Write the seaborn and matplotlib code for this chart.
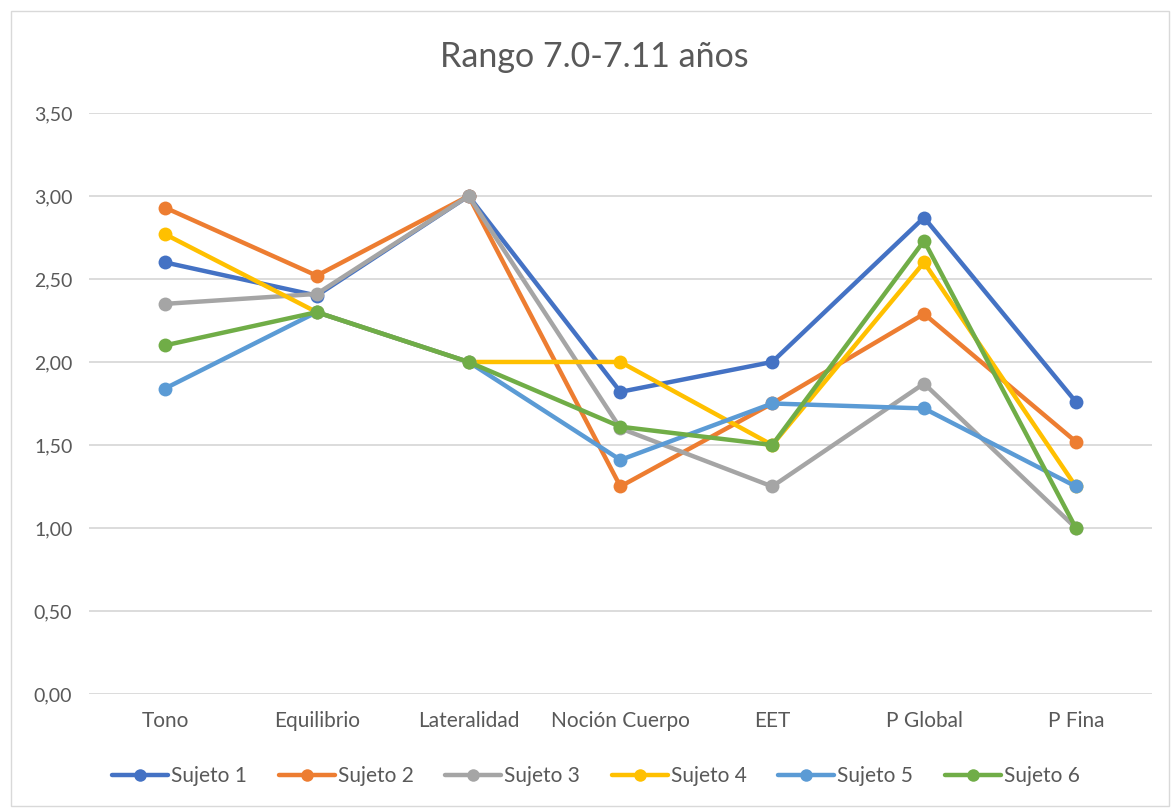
import seaborn as sns
import matplotlib.pyplot as plt
import pandas as pd
from matplotlib.patches import Rectangle
from matplotlib.ticker import FuncFormatter

categorias = ['Tono', 'Equilibrio', 'Lateralidad', 'Noción Cuerpo', 'EET', 'P Global', 'P Fina']
sujeto1 = [2.60, 2.40, 3.00, 1.82, 2.00, 2.87, 1.76]
sujeto2 = [2.93, 2.52, 3.00, 1.25, 1.75, 2.29, 1.52]
sujeto3 = [2.35, 2.41, 3.00, 1.60, 1.25, 1.87, 1.00]
sujeto4 = [2.77, 2.30, 2.00, 2.00, 1.50, 2.60, 1.25]
sujeto5 = [1.84, 2.30, 2.00, 1.41, 1.75, 1.72, 1.25]
sujeto6 = [2.10, 2.30, 2.00, 1.61, 1.50, 2.73, 1.00]
series = ['Sujeto 1', 'Sujeto 2', 'Sujeto 3', 'Sujeto 4', 'Sujeto 5', 'Sujeto 6']
colores = ['#4472C4', '#ED7D31', '#A5A5A5', '#FFC000', '#5B9BD5', '#70AD47']

valores = [sujeto1, sujeto2, sujeto3, sujeto4, sujeto5, sujeto6]
filas = []
for nombre, vals in zip(series, valores):
    for cat, v in zip(categorias, vals):
        filas.append({'cat': cat, 'valor': v, 'Sujeto': nombre})
df = pd.DataFrame(filas)

sns.set_style('white')
plt.rcParams['font.family'] = ['Lato', 'DejaVu Sans']

fig = plt.figure(figsize=(11.73, 8.11), dpi=100)
ax = fig.add_axes([0.0759, 0.1443, 0.906, 0.7164])

sns.lineplot(data=df, x='cat', y='valor', hue='Sujeto', palette=colores,
             marker='o', markersize=10, markeredgewidth=0, linewidth=3.2,
             sort=False, ax=ax, legend=True)

ax.set_xlim(-0.5, 6.5)
ax.set_ylim(0, 3.5)
ax.set_yticks([0, 0.5, 1, 1.5, 2, 2.5, 3, 3.5])
ax.yaxis.set_major_formatter(FuncFormatter(lambda v, p: f'{v:.2f}'.replace('.', ',')))
ax.grid(axis='y', color='#D9D9D9', linewidth=1.3)
ax.set_axisbelow(True)
for s in ax.spines.values():
    s.set_visible(False)
ax.tick_params(axis='both', length=0, labelcolor='#595959')
ax.tick_params(axis='x', pad=12, labelsize=15)
ax.tick_params(axis='y', pad=12, labelsize=14)
ax.set_xlabel('')
ax.set_ylabel('')

fig.text(0.507, 0.93, 'Rango 7.0-7.11 años', ha='center', va='center',
         fontsize=24.5, color='#595959')

handles, labels = ax.get_legend_handles_labels()
for h in handles:
    h.set_markersize(9)
ax.legend(handles, labels, loc='center', bbox_to_anchor=(0.508, 1 - 776 / 811),
          bbox_transform=fig.transFigure, ncol=6, frameon=False, fontsize=15,
          labelcolor='#595959', handlelength=2.7, columnspacing=1.5,
          handletextpad=0.15)

fig.add_artist(Rectangle((0.009, 0.006), 0.988, 0.98, transform=fig.transFigure,
                         fill=False, edgecolor='#D9D9D9', linewidth=1))

fig.savefig('out.png', dpi=100)
